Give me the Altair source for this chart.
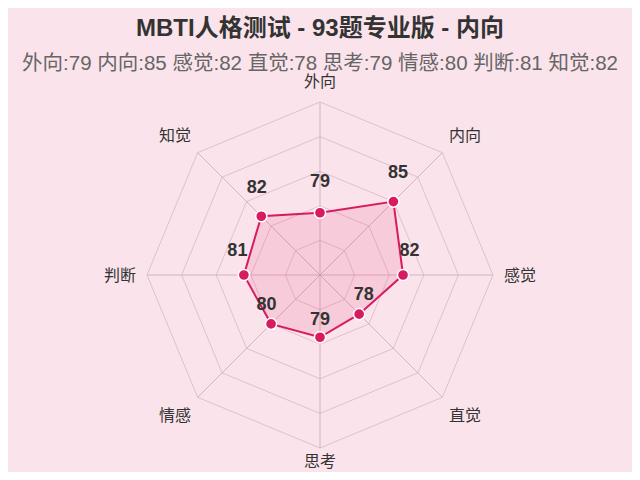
import altair as alt
import pandas as pd

categories = ["外向", "内向", "感觉", "直觉", "思考", "情感", "判断", "知觉"]
values = [79, 85, 82, 78, 79, 80, 81, 82]
scale_min, scale_max = 70, 95
levels = [1, 2, 3, 4, 5]
title_text = "MBTI人格测试 - 93题专业版 - 内向"
subtitle_text = " ".join(f"{c}:{v}" for c, v in zip(categories, values))

n = len(categories)
FONT = "Liberation Sans, Noto Sans CJK SC, sans-serif"
R = 173.0  # pixels per unit radius
W, H = 560, 382
PADL, PADT, PADB = 32, 70, 12
cx_px, cy_px = 320 - 8 - PADL, 275 - 8 - PADT  # center within view
xdom = [-cx_px / R, (W - cx_px) / R]
ydom = [-(H - cy_px) / R, cy_px / R]

pts = pd.DataFrame({"cat": categories, "value": values, "idx": list(range(n))})
poly = pd.concat([pts, pts.iloc[[0]].assign(idx=n)], ignore_index=True)
grid = pd.DataFrame([{"level": l, "k": k} for l in levels for k in range(n + 1)])
spokes = pd.DataFrame({"k": list(range(n))})

X = alt.X("x:Q", scale=alt.Scale(domain=xdom, nice=False, zero=False), axis=None)
Y = alt.Y("y:Q", scale=alt.Scale(domain=ydom, nice=False, zero=False), axis=None)

theta = f"datum.idx*2*PI/{n}"
rexpr = f"(datum.value-{scale_min})/({scale_max}-{scale_min})"

rings = alt.Chart(grid).transform_calculate(
    r=f"datum.level/{len(levels)}",
    x=f"datum.r*sin(datum.k*2*PI/{n})",
    y=f"datum.r*cos(datum.k*2*PI/{n})",
).mark_line(color="#d9b3c2", strokeWidth=1, opacity=0.75).encode(
    x=X, y=Y, detail="level:N", order="k:Q"
)

spk = alt.Chart(spokes).transform_calculate(
    x0="0", y0="0",
    x=f"sin(datum.k*2*PI/{n})",
    y=f"cos(datum.k*2*PI/{n})",
).mark_rule(color="#d0a9b9", strokeWidth=1, opacity=0.85).encode(
    x=alt.X("x0:Q", scale=alt.Scale(domain=xdom, nice=False, zero=False), axis=None),
    y=alt.Y("y0:Q", scale=alt.Scale(domain=ydom, nice=False, zero=False), axis=None),
    x2="x:Q", y2="y:Q",
)

area = alt.Chart(poly).transform_calculate(
    r=rexpr, x=f"datum.r*sin({theta})", y=f"datum.r*cos({theta})"
).mark_line(
    color="#d81b60", strokeWidth=2, fill="#e8407a", fillOpacity=0.15
).encode(x=X, y=Y, order="idx:Q")

dots = alt.Chart(pts).transform_calculate(
    r=rexpr, x=f"datum.r*sin({theta})", y=f"datum.r*cos({theta})"
).mark_circle(size=125, color="#d81b60", opacity=1, stroke="white", strokeWidth=1.5).encode(
    x=X, y=Y
)

vlabels = alt.Chart(pts).transform_calculate(
    r=f"{rexpr}+6.5/{R}", x=f"datum.r*sin({theta})", y=f"datum.r*cos({theta})"
).mark_text(
    font=FONT, fontSize=18, fontWeight="bold", color="#333333", dy=-24, baseline="middle"
).encode(x=X, y=Y, text="value:Q")

clabels = alt.Chart(pts).transform_calculate(
    s=f"sin({theta})", c=f"cos({theta})",
).transform_calculate(
    lx=f"abs(datum.c) < 0.01 ? 200/{R} : 205/{R}",
    ly=f"abs(datum.s) < 0.01 ? (datum.c > 0 ? 194/{R} : 186/{R}) : 197.5/{R}",
).transform_calculate(
    x="datum.lx*datum.s", y="datum.ly*datum.c"
).mark_text(font=FONT, fontSize=16, color="#333333", baseline="middle", dy=1).encode(
    x=X, y=Y, text="cat:N"
)

chart = alt.layer(rings, spk, area, dots, vlabels, clabels).properties(
    width=W, height=H,
    title=alt.Title(
        title_text, subtitle=subtitle_text, anchor="middle",
        font=FONT, fontSize=24, fontWeight="bold", color="#333333",
        subtitleFont=FONT, subtitleFontSize=20.5, subtitleColor="#666666",
        subtitlePadding=13, offset=0,
    ),
    autosize=alt.AutoSizeParams(type="none"),
    padding={"left": PADL, "top": PADT, "right": 32, "bottom": PADB},
    background="#fae3eb",
).configure_view(stroke=None)

chart.save("out.html", embed_options={"renderer": "svg", "actions": False})
